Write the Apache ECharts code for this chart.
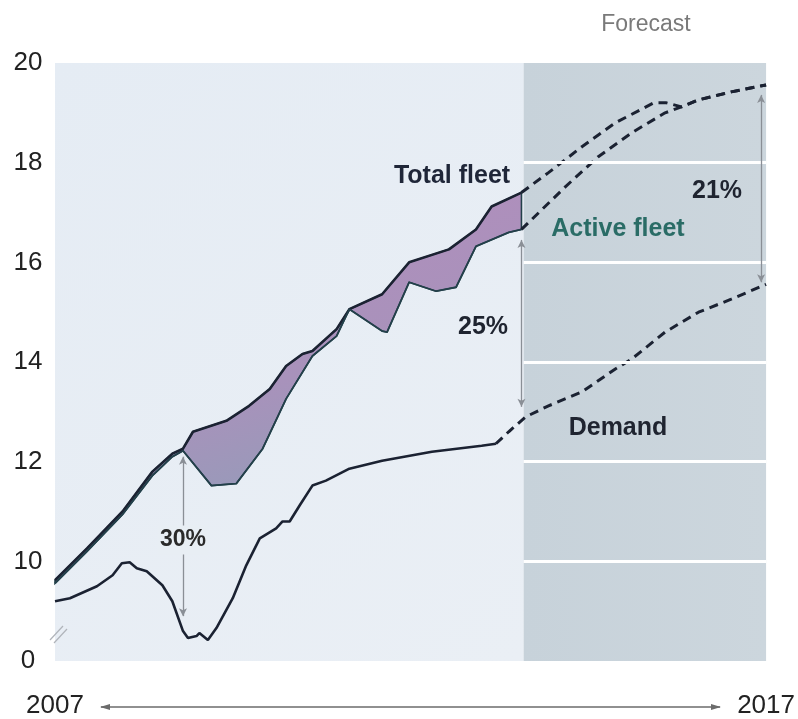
<!DOCTYPE html>
<html><head><meta charset="utf-8">
<script src="https://cdn.jsdelivr.net/npm/echarts@6/dist/echarts.min.js"></script>
<style>html,body{margin:0;padding:0;background:#fff}#c{width:798px;height:719px}</style>
</head><body><div id="c"></div>
<script>
// ---- data (x = year, y = value; y axis has a break: bottom tick "0" stands at 8) ----
const yTickLabels = {8:'0',10:'10',12:'12',14:'14',16:'16',18:'18',20:'20'};
const xLabels = [2007, 2017];
const forecastStart = 2013.59;

const totalFleetHist = [[2007.00,9.62],[2007.45,10.26],[2007.95,11.0],[2008.37,11.8],[2008.65,12.16],[2008.80,12.26],[2008.94,12.6],[2009.41,12.82],[2009.73,13.12],[2010.02,13.46],[2010.25,13.92],[2010.48,14.16],[2010.62,14.22],[2010.96,14.66],[2011.14,15.06],[2011.60,15.36],[2011.98,16.0],[2012.54,16.26],[2012.92,16.66],[2013.14,17.12],[2013.56,17.4]];
const activeFleetHist = [[2007.00,9.56],[2007.45,10.2],[2007.95,10.94],[2008.37,11.72],[2008.65,12.1],[2008.80,12.22],[2009.20,11.52],[2009.55,11.56],[2009.92,12.26],[2010.25,13.26],[2010.62,14.12],[2010.96,14.52],[2011.14,15.06],[2011.60,14.62],[2011.67,14.6],[2011.98,15.6],[2012.36,15.42],[2012.64,15.5],[2012.92,16.32],[2013.38,16.6],[2013.56,16.66]];
const totalFleetFcst = [[2013.56,17.4],[2013.94,17.8],[2014.41,18.32],[2014.88,18.8],[2015.42,19.2],[2015.60,19.2],[2015.81,19.12],[2016.05,19.26],[2016.51,19.42],[2017.0,19.56]];
const activeFleetFcst = [[2013.56,16.66],[2014.18,17.52],[2014.64,18.12],[2015.11,18.6],[2015.58,19.0],[2015.81,19.12],[2016.05,19.26],[2016.51,19.42],[2017.0,19.56]];
const demandHist = [[2007.0,9.2],[2007.21,9.26],[2007.59,9.5],[2007.81,9.72],[2007.94,9.96],[2008.05,9.98],[2008.15,9.86],[2008.29,9.8],[2008.51,9.52],[2008.65,9.2],[2008.80,8.6],[2008.87,8.46],[2008.99,8.5],[2009.03,8.56],[2009.15,8.42],[2009.27,8.66],[2009.50,9.26],[2009.69,9.92],[2009.88,10.46],[2010.11,10.66],[2010.20,10.8],[2010.30,10.8],[2010.44,11.12],[2010.62,11.52],[2010.81,11.62],[2011.14,11.86],[2011.60,12.02],[2012.30,12.2],[2013.0,12.32],[2013.2,12.36]];
const demandFcst = [[2013.2,12.36],[2013.38,12.6],[2013.62,12.9],[2013.94,13.12],[2014.41,13.4],[2014.88,13.86],[2015.11,14.06],[2015.58,14.6],[2016.05,15.0],[2016.51,15.26],[2017.0,15.56]];
// gap arrows: [year, from, to]
const gapArrows = [[2008.80,12.1,8.9],[2013.56,16.45,13.1],[2016.93,19.36,15.6]];
const gridValues = [10,12,14,16,18];

const FONT = '"Liberation Sans", Arial, Helvetica, sans-serif';
const LINE = '#1b2232';

const chart = echarts.init(document.getElementById('c'), null, {renderer:'canvas'});

function txt(x,y,text,font,fill,extra){
  return {type:'text',x:x,y:y,z:100,zlevel:1,style:Object.assign({text:text,font:font,fill:fill,align:'center',verticalAlign:'middle'},extra||{})};
}

const option = {
  backgroundColor:'#ffffff',
  animation:false,
  grid:{left:55,right:30,top:63,bottom:56},
  xAxis:{type:'value',min:2007,max:2017,interval:10,
    axisLine:{show:false},axisTick:{show:false},splitLine:{show:false},
    axisLabel:{margin:32,fontFamily:FONT,fontSize:26,color:'#222',
      formatter:v=>xLabels.includes(v)?String(v):''}},
  yAxis:{type:'value',min:8,max:20,interval:2,
    axisLine:{show:false},axisTick:{show:false},splitLine:{show:false},
    axisLabel:{margin:27,align:'center',fontFamily:FONT,fontSize:26,color:'#222',
      formatter:v=>yTickLabels[v]||''}},
  series:[
    {type:'line',data:[],z:1,silent:true,
      markArea:{silent:true,data:[
        [{coord:[2007,8],itemStyle:{color:{type:'linear',x:0,y:0,x2:1,y2:1,colorStops:[{offset:0,color:'#e5ecf4'},{offset:1,color:'#eaeff5'}]}}},{coord:[forecastStart,20]}],
        [{coord:[forecastStart,8],itemStyle:{color:{type:'linear',x:0,y:0,x2:1,y2:0,colorStops:[{offset:0,color:'#c7d2da'},{offset:1,color:'#ccd6dd'}]}}},{coord:[2017,20]}]
      ]},
      markLine:{silent:true,symbol:['none','none'],label:{show:false},
        lineStyle:{color:'#ffffff',width:3,type:'solid'},
        data:gridValues.map(g=>[{coord:[forecastStart,g]},{coord:[2017,g]}])}
    },
    {type:'custom',z:2,silent:true,data:[[2010,14]],
      renderItem:function(params,api){
        const pts = totalFleetHist.map(p=>api.coord(p)).concat(activeFleetHist.slice().reverse().map(p=>api.coord(p)));
        return {type:'polygon',shape:{points:pts},
          style:{fill:{type:'linear',x:0,y:0,x2:0.25,y2:1,colorStops:[{offset:0,color:'#b58cbd'},{offset:0.6,color:'#a892bb'},{offset:1,color:'#8e9fb8'}]},stroke:'#23404a',lineWidth:1.6}};
      }},
    {type:'line',z:3,data:totalFleetHist,symbol:'none',lineStyle:{color:LINE,width:2.6}},
    {type:'line',z:3,data:activeFleetHist,symbol:'none',lineStyle:{color:'#23404a',width:1.8}},
    {type:'line',z:3,data:totalFleetFcst,symbol:'none',lineStyle:{color:LINE,width:3,type:[9,6]}},
    {type:'line',z:3,data:activeFleetFcst,symbol:'none',lineStyle:{color:LINE,width:3,type:[9,6]}},
    {type:'line',z:3,data:demandHist,symbol:'none',lineStyle:{color:LINE,width:2.6}},
    {type:'line',z:3,data:demandFcst,symbol:'none',lineStyle:{color:LINE,width:3,type:[9,6]}},
    {type:'line',data:[],z:4,silent:true,
      markLine:{silent:true,symbol:['arrow','arrow'],symbolSize:[6,8],label:{show:false},
        lineStyle:{color:'#8a8f96',width:1.3,type:'solid'},
        data:gapArrows.map(a=>[{coord:[a[0],a[1]]},{coord:[a[0],a[2]]}])}
    }
  ],
  graphic:[
    txt(646,25,'Forecast','23px '+FONT,'#7a7a7a'),
    txt(452,176,'Total fleet','bold 25px '+FONT,'#1f2638'),
    txt(618,229,'Active fleet','bold 25px '+FONT,'#2a6c66'),
    txt(717,191,'21%','bold 25px '+FONT,'#1f2430'),
    txt(483,327,'25%','bold 25px '+FONT,'#1f2430'),
    txt(618,428,'Demand','bold 25px '+FONT,'#1f2430'),
    txt(183,540,'30%','bold 23px '+FONT,'#2a2a2a',{backgroundColor:'#e8eef4',padding:[3,2]}),
    // axis break marks
    {type:'line',z:100,zlevel:1,shape:{x1:50,y1:640,x2:63,y2:626},style:{stroke:'#b0b4ba',lineWidth:1.2}},
    {type:'line',z:100,zlevel:1,shape:{x1:54,y1:643,x2:67,y2:629},style:{stroke:'#b0b4ba',lineWidth:1.2}},
    // x axis arrow
    {type:'line',z:100,shape:{x1:101,y1:707,x2:720,y2:707},style:{stroke:'#6b6b6b',lineWidth:1.3}},
    {type:'polygon',z:100,shape:{points:[[100,707],[110,704],[110,710]]},style:{fill:'#6b6b6b'}},
    {type:'polygon',z:100,shape:{points:[[721,707],[711,704],[711,710]]},style:{fill:'#6b6b6b'}}
  ]
};
chart.setOption(option);
</script></body></html>
